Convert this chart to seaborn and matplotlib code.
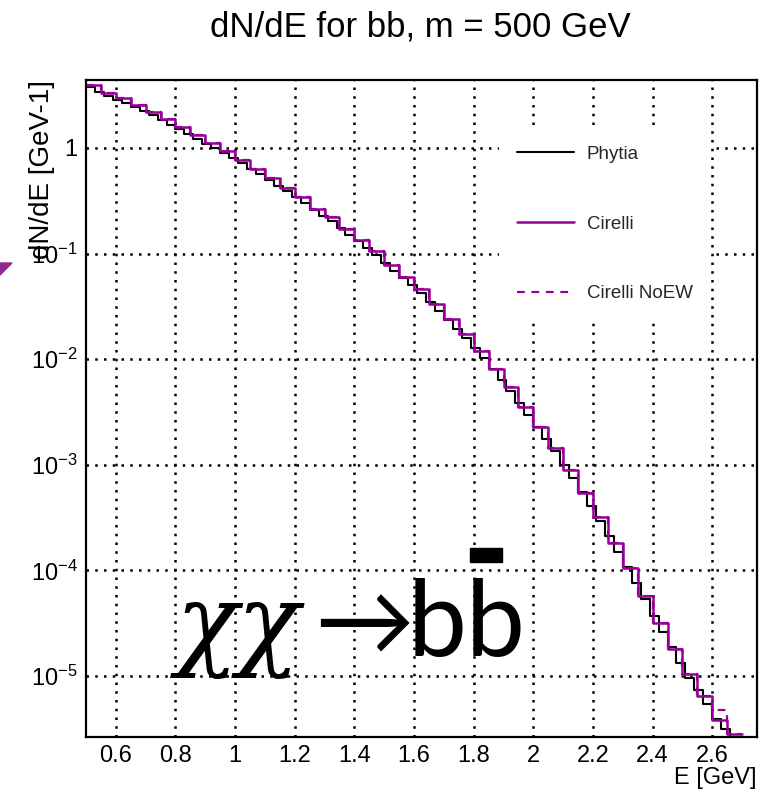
import matplotlib
matplotlib.use("Agg")
import matplotlib.pyplot as plt
from matplotlib.patches import Polygon, Rectangle
from matplotlib.ticker import FixedLocator, FixedFormatter, MultipleLocator, LogLocator, NullFormatter
import numpy as np
import pandas as pd
import seaborn as sns

# binning of the two histograms (GeV)
cirelli_range = (0.5, 2.7)
phytia_range = (0.5, 2.75)

# dN/dE per bin
cirelli_vals = [3.95, 3.34, 2.95, 2.55, 2.20, 1.86, 1.57, 1.32, 1.12, 0.93,
                0.774, 0.638, 0.514, 0.422, 0.344, 0.266, 0.222, 0.172, 0.135, 0.105,
                0.0785, 0.0604, 0.0461, 0.0332, 0.0239, 0.0172, 0.0120, 0.00815, 0.00541, 0.00353,
                0.00228, 0.00145, 8.9e-4, 5.4e-4, 3.2e-4, 1.82e-4, 1.05e-4, 5.75e-5, 3.2e-5, 1.81e-5,
                1.05e-5, 6.5e-6, 3.84e-6, 2.82e-6]
cirelli_noew_vals = [3.95, 3.34, 2.95, 2.55, 2.20, 1.86, 1.57, 1.32, 1.12, 0.93,
                     0.774, 0.638, 0.514, 0.422, 0.344, 0.266, 0.222, 0.172, 0.135, 0.105,
                     0.0785, 0.0604, 0.0461, 0.0332, 0.0239, 0.0172, 0.0120, 0.00815, 0.00541, 0.00353,
                     0.00228, 0.00145, 8.9e-4, 5.4e-4, 3.2e-4, 1.82e-4, 1.05e-4, 5.75e-5, 3.2e-5, 1.81e-5,
                     1.05e-5, 6.5e-6, 4.8e-6, 2.82e-6]
phytia_vals = [3.76, 3.41, 3.08, 2.86, 2.64, 2.43, 2.22, 2.03, 1.84, 1.66,
               1.50, 1.355, 1.22, 1.10, 0.993, 0.891, 0.798, 0.714, 0.637, 0.564,
               0.495, 0.439, 0.389, 0.344, 0.302, 0.258, 0.228, 0.205, 0.175, 0.151,
               0.131, 0.113, 0.0971, 0.0815, 0.0687, 0.0587, 0.0500, 0.0426, 0.0349, 0.0286,
               0.0236, 0.0193, 0.0158, 0.0128, 0.0103, 0.00813, 0.00638, 0.00499, 0.00386, 0.00299,
               0.00229, 0.00175, 0.00134, 0.00100, 7.43e-4, 5.51e-4, 4.04e-4, 2.95e-4, 2.10e-4, 1.50e-4,
               1.08e-4, 7.60e-5, 5.31e-5, 3.73e-5, 2.63e-5, 1.87e-5, 1.34e-5, 9.66e-6, 7.29e-6, 5.43e-6,
               3.94e-6, 3.13e-6, 2.0e-6, 1.26e-6, 8.0e-7]

series_names = ["Phytia", "Cirelli", "Cirelli NoEW"]
xtick_vals = [0.6, 0.8, 1.0, 1.2, 1.4, 1.6, 1.8, 2.0, 2.2, 2.4, 2.6]
xtick_labels = ["0.6", "0.8", "1", "1.2", "1.4", "1.6", "1.8", "2", "2.2", "2.4", "2.6"]
ytick_vals = [1e-5, 1e-4, 1e-3, 1e-2, 1e-1, 1.0]
ytick_labels = [r"$10^{-5}$", r"$10^{-4}$", r"$10^{-3}$", r"$10^{-2}$", r"$10^{-1}$", "1"]

purple = "#990099"

sns.set_theme(style="white")
plt.rcParams["font.family"] = ["Liberation Sans", "DejaVu Sans"]
plt.rcParams["mathtext.fontset"] = "custom"
plt.rcParams["mathtext.rm"] = "Liberation Sans"
plt.rcParams["mathtext.it"] = "Liberation Sans:italic"
plt.rcParams["mathtext.default"] = "regular"


def step_frame(lo_hi, vals):
    edges = np.linspace(lo_hi[0], lo_hi[1], len(vals) + 1)
    return pd.DataFrame({"E": edges, "dNdE": np.append(vals, vals[-1])})


fig = plt.figure(figsize=(7.77, 7.94), dpi=100)
ax = fig.add_axes([86 / 777, 1 - 737 / 794, 671 / 777, 657 / 794])

sns.lineplot(data=step_frame(phytia_range, phytia_vals), x="E", y="dNdE", ax=ax,
             drawstyle="steps-post", color="black", lw=1.5, sort=False, estimator=None,
             label=series_names[0])
sns.lineplot(data=step_frame(cirelli_range, cirelli_noew_vals), x="E", y="dNdE", ax=ax,
             drawstyle="steps-post", color=purple, lw=1.6, linestyle=(0, (3.5, 3)),
             sort=False, estimator=None, label=series_names[2])
sns.lineplot(data=step_frame(cirelli_range, cirelli_vals), x="E", y="dNdE", ax=ax,
             drawstyle="steps-post", color=purple, lw=1.8, sort=False, estimator=None,
             label=series_names[1])

ax.set_yscale("log")
ax.set_xlim(0.5, 2.75)
ax.set_ylim(2.64e-6, 4.4)

ax.xaxis.set_major_locator(FixedLocator(xtick_vals))
ax.xaxis.set_major_formatter(FixedFormatter(xtick_labels))
ax.xaxis.set_minor_locator(MultipleLocator(0.05))
ax.yaxis.set_major_locator(FixedLocator(ytick_vals))
ax.yaxis.set_major_formatter(FixedFormatter(ytick_labels))
ax.yaxis.set_minor_locator(LogLocator(base=10, subs=np.arange(2, 10)))
ax.yaxis.set_minor_formatter(NullFormatter())

ax.tick_params(which="both", direction="in", top=False, right=False, color="black",
               width=1.3, labelsize=17, labelcolor="black")
ax.tick_params(which="major", length=13, pad=6)
ax.tick_params(which="minor", length=6)
for s in ax.spines.values():
    s.set_color("black")
    s.set_linewidth(1.6)

ax.grid(True, which="major", color="black", linestyle=(0, (1, 2.5)), linewidth=1.8)

ax.set_xlabel("E [GeV]", loc="right", fontsize=17, color="black", va="top")
ax.xaxis.set_label_coords(1.0, -0.046)
ax.set_ylabel("dN/dE [GeV-1]", loc="top", fontsize=20, color="black")
ax.yaxis.set_label_coords(-0.046, 1.0)
fig.text(420 / 777, 1 - 27 / 794, "dN/dE for bb, m = 500 GeV", ha="center", va="center",
         fontsize=25, color="black")

handles, labels = ax.get_legend_handles_labels()
order = [labels.index(n) for n in series_names]
leg = ax.legend([handles[i] for i in order], [labels[i] for i in order],
                loc="center", bbox_to_anchor=(0.7735, 0.7808), fontsize=13.5,
                labelspacing=2.8, handlelength=3.0, handletextpad=0.7,
                frameon=True, fancybox=False, framealpha=1.0, borderpad=1.0)
leg.get_frame().set_facecolor("white")
leg.get_frame().set_edgecolor("none")

# process label drawn on the plot
fig.text(176 / 777, 1 - 657 / 794, "χχ", fontsize=74, family=["DejaVu Serif"],
         style="italic", color="black", ha="left", va="baseline")
fig.text(314 / 777, 1 - 656 / 794, "→", fontsize=72, family=["Lato", "DejaVu Sans"],
         color="black", ha="left", va="baseline")
fig.text(408 / 777, 1 - 656 / 794, "bb", fontsize=76, family=["Lato", "DejaVu Sans"],
         color="black", ha="left", va="baseline")
fig.add_artist(Rectangle((470 / 777, 1 - 562 / 794), 32 / 777, 14 / 794,
                         transform=fig.transFigure, color="black"))
# purple marker cut at the left edge
fig.add_artist(Polygon([(0, 1 - 263 / 794), (12 / 777, 1 - 263 / 794), (0, 1 - 275 / 794)],
                       closed=True, transform=fig.transFigure, color="#8e2a8e"))

fig.savefig("out.png", dpi=100)
